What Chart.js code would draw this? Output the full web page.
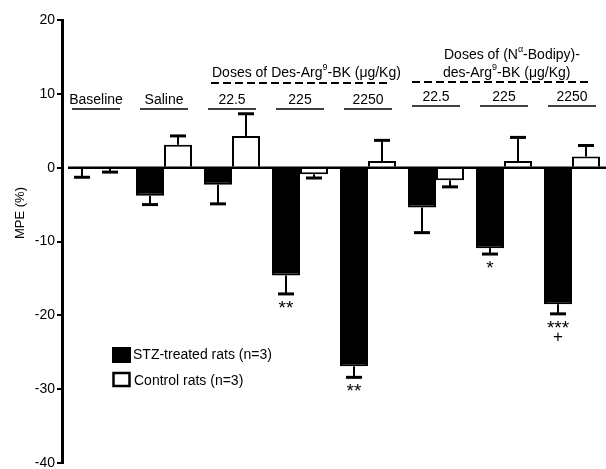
<!DOCTYPE html>
<html lang="en">
<head>
    <meta charset="UTF-8">
    <title>MPE bar chart</title>
    <script src="https://cdn.jsdelivr.net/npm/chart.js"></script>
    <style>
        body { margin: 0; background: #fff; }
        canvas { display: block; }
    </style>
</head>
<body>
    <canvas id="mpeChart" width="606" height="469"></canvas>

    <script>
        // Data
        const groups = ['Baseline', 'Saline', '22.5', '225', '2250', '22.5', '225', '2250'];
        const stzMean = [-0.1, -3.8, -2.3, -14.6, -26.9, -5.4, -10.9, -18.5];
        const stzErr = [1.2, 1.2, 2.6, 2.5, 1.5, 3.4, 0.8, 1.3];
        const ctrlMean = [-0.1, 3.1, 4.3, -0.9, 0.9, -1.7, 0.9, 1.5];
        const ctrlErr = [0.5, 1.2, 3.0, 0.5, 2.8, 0.9, 3.2, 1.5];
        const stzStars = ['', '', '', '**', '**', '', '*', '***'];
        const stzPlus = ['', '', '', '', '', '', '', '+'];
        const yTicks = [20, 10, 0, -10, -20, -30, -40];

        const FONT = '"Liberation Sans", Arial, Helvetica, sans-serif';

        function line(ctx, x1, y1, x2, y2) {
            ctx.beginPath();
            ctx.moveTo(x1, y1);
            ctx.lineTo(x2, y2);
            ctx.stroke();
        }

        // text with superscript pieces, left aligned
        function richText(ctx, parts, x, y) {
            let cx = x;
            parts.forEach(p => {
                ctx.font = (p.sup ? '9px ' : '14px ') + FONT;
                ctx.fillText(p.t, cx, p.sup ? y - 5 : y);
                cx += ctx.measureText(p.t).width;
            });
        }

        const overlay = {
            id: 'overlay',
            afterDatasetsDraw(chart) {
                const ctx = chart.ctx;
                const x = chart.scales.x;
                const y = chart.scales.y;
                const area = chart.chartArea;
                ctx.save();
                ctx.strokeStyle = '#000';
                ctx.fillStyle = '#000';

                // zero line
                const y0 = y.getPixelForValue(0);
                ctx.lineWidth = 2.5;
                line(ctx, area.left + 6, y0, area.right, y0);

                // error bars, pointing away from zero
                [stzErr, ctrlErr].forEach((errs, di) => {
                    const vals = chart.data.datasets[di].data;
                    chart.getDatasetMeta(di).data.forEach((bar, i) => {
                        const s = vals[i] < 0 ? -1 : 1;
                        const yEnd = y.getPixelForValue(vals[i] + s * errs[i]);
                        ctx.lineWidth = 2;
                        line(ctx, bar.x, bar.y, bar.x, yEnd);
                        ctx.lineWidth = 3;
                        line(ctx, bar.x - 8, yEnd, bar.x + 8, yEnd);
                    });
                });

                // significance marks under STZ bars
                ctx.textAlign = 'center';
                chart.getDatasetMeta(0).data.forEach((bar, i) => {
                    const yEnd = y.getPixelForValue(stzMean[i] - stzErr[i]);
                    if (stzStars[i]) {
                        ctx.textBaseline = 'alphabetic';
                        ctx.font = '19px ' + FONT;
                        ctx.fillText(stzStars[i], bar.x, yEnd + 20);
                    }
                    if (stzPlus[i]) {
                        ctx.textBaseline = 'middle';
                        ctx.font = '17px ' + FONT;
                        ctx.fillText(stzPlus[i], bar.x, yEnd + 23);
                    }
                });

                // group labels with underline
                ctx.textBaseline = 'middle';
                ctx.font = '14px ' + FONT;
                groups.forEach((g, i) => {
                    const cx = x.getPixelForValue(i);
                    const lift = i >= 5 ? 3 : 0;
                    ctx.fillText(g, cx, 100 - lift);
                    ctx.lineWidth = 1.5;
                    line(ctx, cx - 24, 109 - lift, cx + 24, 109 - lift);
                });

                // dashed brackets over the dose groups
                ctx.lineWidth = 2;
                ctx.setLineDash([8, 4]);
                line(ctx, x.getPixelForValue(2) - 21, 83, x.getPixelForValue(4) + 19, 83);
                line(ctx, x.getPixelForValue(5) - 24, 82, x.getPixelForValue(7) + 16, 82);
                ctx.setLineDash([]);

                ctx.textAlign = 'left';
                richText(ctx, [{ t: 'Doses of Des-Arg' }, { t: '9', sup: true }, { t: '-BK (μg/Kg)' }], 212, 73);
                richText(ctx, [{ t: 'Doses of (N' }, { t: 'α', sup: true }, { t: '-Bodipy)-' }], 444, 55);
                richText(ctx, [{ t: 'des-Arg' }, { t: '9', sup: true }, { t: '-BK (μg/Kg)' }], 443, 73);

                // legend
                ctx.fillRect(112, 347, 19, 16);
                ctx.lineWidth = 2.5;
                ctx.strokeRect(113.5, 373, 16, 13);
                ctx.font = '14px ' + FONT;
                ctx.fillText('STZ-treated rats (n=3)', 133, 355);
                ctx.fillText('Control rats (n=3)', 134, 381);

                // y axis title
                ctx.translate(20, 213);
                ctx.rotate(-Math.PI / 2);
                ctx.textAlign = 'center';
                ctx.font = '13px ' + FONT;
                ctx.fillText('MPE (%)', 0, 0);
                ctx.restore();
            }
        };

        const ctx = document.getElementById('mpeChart').getContext('2d');
        new Chart(ctx, {
            type: 'bar',
            data: {
                labels: groups,
                datasets: [
                    {
                        label: 'STZ-treated rats (n=3)',
                        data: stzMean,
                        backgroundColor: '#000',
                        borderColor: '#000',
                        borderWidth: 2
                    },
                    {
                        label: 'Control rats (n=3)',
                        data: ctrlMean,
                        backgroundColor: '#fff',
                        borderColor: '#000',
                        borderWidth: 2
                    }
                ]
            },
            options: {
                responsive: false,
                animation: false,
                layout: { padding: { top: 20, bottom: 6, left: 0, right: 0 } },
                datasets: { bar: { categoryPercentage: 0.824, barPercentage: 1 } },
                plugins: {
                    legend: { display: false },
                    tooltip: { enabled: false }
                },
                scales: {
                    x: { display: false },
                    y: {
                        min: -40,
                        max: 20,
                        afterFit: s => { s.width = 62; },
                        afterBuildTicks: s => { s.ticks = yTicks.map(v => ({ value: v })); },
                        ticks: { color: '#000', padding: 2, font: { size: 14, family: FONT, lineHeight: 0.5 } },
                        grid: { drawOnChartArea: false, color: '#000', lineWidth: 2, tickLength: 5 },
                        border: { color: '#000', width: 3 }
                    }
                }
            },
            plugins: [overlay]
        });
    </script>
</body>
</html>
